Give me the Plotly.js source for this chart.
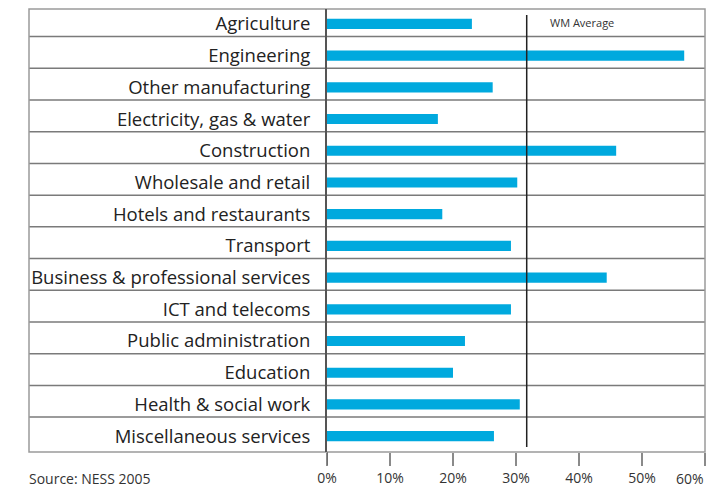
<!DOCTYPE html>
<html>
<head>
<meta charset="utf-8">
<script src="https://cdn.plot.ly/plotly-3.0.1.min.js"></script>
<style>html,body{margin:0;padding:0;background:#fff;}#chart{width:707px;height:487px;}</style>
</head>
<body>
<div id="chart"></div>
<script>
const categories = [
  "Agriculture",
  "Engineering",
  "Other manufacturing",
  "Electricity, gas & water",
  "Construction",
  "Wholesale and retail",
  "Hotels and restaurants",
  "Transport",
  "Business & professional services",
  "ICT and telecoms",
  "Public administration",
  "Education",
  "Health & social work",
  "Miscellaneous services"
];
const values = [23.0, 56.7, 26.3, 17.6, 45.9, 30.2, 18.3, 29.2, 44.4, 29.2, 21.9, 20.0, 30.6, 26.5];
const wmAverage = 31.7;
const tickVals = [0, 10, 20, 30, 40, 50, 60];
const tickText = ["0%", "10%", "20%", "30%", "40%", "50%", "60%"];
const avgLabel = "WM Average";
const sourceText = "Source: NESS 2005";

const W = 707, H = 487;
const mL = 327, mR = 2, mT = 9, mB = 35;
const plotW = W - mL - mR;
const plotH = H - mT - mB;
const frameLeft = (29 - mL) / plotW;

const shapes = [];
for (let i = 0; i < categories.length - 1; i++) {
  shapes.push({type: 'line', xref: 'paper', yref: 'y', x0: frameLeft, x1: 1, y0: i + 0.4, y1: i + 0.4,
    line: {color: '#7a7a7a', width: 1.5}, layer: 'below'});
}
shapes.push({type: 'rect', xref: 'paper', yref: 'paper', x0: frameLeft, x1: 1, y0: 0, y1: 1,
  line: {color: '#9a9a9a', width: 1.5}, layer: 'below'});
shapes.push({type: 'line', xref: 'x', yref: 'paper', x0: wmAverage, x1: wmAverage, y0: (452 - 447) / plotH, y1: (452 - 15) / plotH,
  line: {color: '#222', width: 1.5}, layer: 'above'});
shapes.push({type: 'line', xref: 'x', yref: 'paper', x0: 0, x1: 0, y0: 0, y1: -13 / plotH,
  line: {color: '#666', width: 1.5}, layer: 'above'});

const data = [{
  type: 'bar',
  orientation: 'h',
  y: categories,
  x: values,
  marker: {color: '#00a9de'},
  width: 0.32,
  hoverinfo: 'none'
}];

const lastIdx = tickVals.length - 1;

const layout = {
  width: W, height: H,
  margin: {l: mL, r: mR, t: mT, b: mB, pad: 0},
  paper_bgcolor: '#fff', plot_bgcolor: 'rgba(0,0,0,0)',
  showlegend: false,
  font: {family: 'Open Sans, sans-serif', color: '#333'},
  xaxis: {
    range: [0, 60], tickvals: tickVals, ticktext: tickText,
    showgrid: false, zeroline: false, showline: false,
    ticks: 'outside', ticklen: 13, tickwidth: 1.5, tickcolor: '#8a8a8a',
    tickfont: {size: 14, color: '#333'}, fixedrange: true
  },
  yaxis: {
    type: 'category', range: [13.5, -0.47],
    showgrid: false, zeroline: false,
    showline: true, linecolor: '#555', linewidth: 2,
    ticks: '', ticklabelstandoff: 11,
    tickfont: {size: 18.5, color: '#222'}, fixedrange: true
  },
  shapes: shapes,
  annotations: [
    {text: avgLabel, xref: 'x', yref: 'y', x: 35, y: 0, xanchor: 'left', yanchor: 'middle', yshift: 1,
     showarrow: false, font: {size: 11, color: '#333'}},
    {text: sourceText, xref: 'paper', yref: 'paper', x: (27 - mL) / plotW, y: (452 - 478) / plotH,
     xanchor: 'left', yanchor: 'middle', showarrow: false, font: {size: 14, color: '#333'}},
    {text: tickText[lastIdx], xref: 'x', yref: 'paper', x: tickVals[lastIdx], y: (452 - 478) / plotH,
     xanchor: 'right', yanchor: 'middle', xshift: 1, showarrow: false, font: {size: 14, color: '#333'}}
  ]
};

Plotly.newPlot('chart', data, layout, {displayModeBar: false, staticPlot: true});
</script>
</body>
</html>
